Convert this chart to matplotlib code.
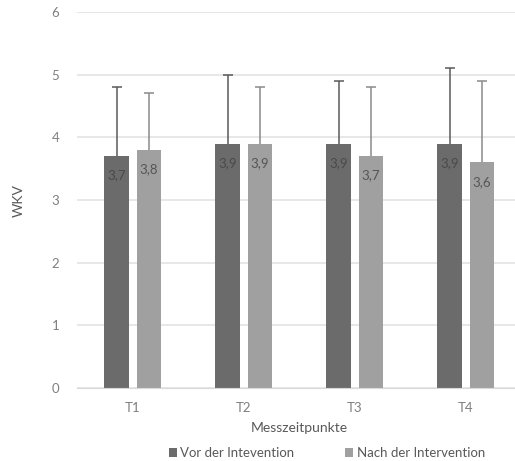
import numpy as np
import matplotlib
matplotlib.use('Agg')
import matplotlib.pyplot as plt

# data
zeitpunkte = ['T1', 'T2', 'T3', 'T4']
vor_werte = [3.7, 3.9, 3.9, 3.9]
nach_werte = [3.8, 3.9, 3.7, 3.6]
vor_oben = [4.8, 5.0, 4.9, 5.1]   # upper end of error bar
nach_oben = [4.7, 4.8, 4.8, 4.9]
labels = ['Vor der Intevention', 'Nach der Intervention']

plt.rcParams['font.family'] = ['Lato', 'DejaVu Sans']

dark = '#6b6b6b'
light = '#a0a0a0'
txt = '#7f7f7f'

fig = plt.figure(figsize=(5.15, 4.61), dpi=100)
ax = fig.add_axes([0.15, 0.158, 0.862, 0.816])

x = np.arange(len(zeitpunkte))
width = 0.22
off = 0.145

ax.bar(x - off, vor_werte, width, color=dark, label=labels[0], zorder=2)
ax.bar(x + off, nach_werte, width, color=light, label=labels[1], zorder=2)

# error bars only upward, cap only on top
for xs, lo, hi, c in [(x - off, vor_werte, vor_oben, '#5a5a5a'),
                      (x + off, nach_werte, nach_oben, '#8a8a8a')]:
    ax.vlines(xs, lo, hi, color=c, linewidth=1.1, zorder=3)
    ax.plot(xs, hi, linestyle='none', marker='_', markersize=7, markeredgewidth=1.1,
            color=c, zorder=3)

for xi, v in zip(x - off, vor_werte):
    ax.annotate(('%.1f' % v).replace('.', ','), (xi, v), xytext=(0, -14),
                textcoords='offset points', ha='center', va='center',
                fontsize=9.5, color='#4a4a4a', zorder=4)
for xi, v in zip(x + off, nach_werte):
    ax.annotate(('%.1f' % v).replace('.', ','), (xi, v), xytext=(0, -14),
                textcoords='offset points', ha='center', va='center',
                fontsize=9.5, color='#555555', zorder=4)

ax.set_ylim(0, 6)
ax.set_xlim(-0.5, 3.5)
ax.set_yticks(range(0, 7))
ax.set_xticks(x)
ax.set_xticklabels(zeitpunkte)
ax.tick_params(axis='both', length=0, labelsize=9.5, colors=txt)
ax.tick_params(axis='y', pad=13)
ax.tick_params(axis='x', pad=10)
ax.grid(axis='y', color='#e3e3e3', linewidth=1.2, zorder=0)
for s in ['top', 'right', 'left']:
    ax.spines[s].set_visible(False)
ax.spines['bottom'].set_color('#d9d9d9')

ax.set_ylabel('WKV', fontsize=10, color='#595959', labelpad=19)
ax.set_xlabel('Messzeitpunkte', fontsize=10, color='#595959', labelpad=6)

ax.legend(loc='upper center', bbox_to_anchor=(0.562, -0.125), ncol=2, frameon=False,
          fontsize=9.5, labelcolor='#595959', handlelength=0.6, handleheight=0.6,
          handletextpad=0.3, columnspacing=3.8)

fig.savefig('out.png', dpi=100)
